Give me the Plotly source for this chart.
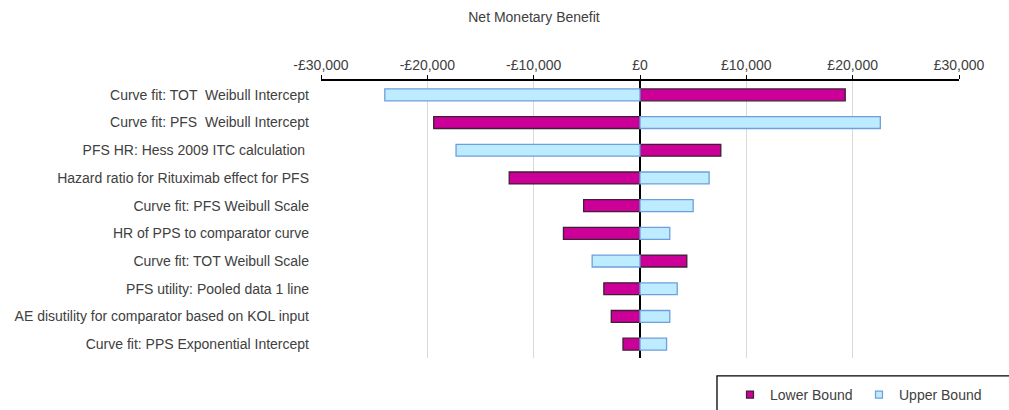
import plotly.graph_objects as go

categories = [
    "Curve fit: TOT  Weibull Intercept",
    "Curve fit: PFS  Weibull Intercept",
    "PFS HR: Hess 2009 ITC calculation ",
    "Hazard ratio for Rituximab effect for PFS",
    "Curve fit: PFS Weibull Scale",
    "HR of PPS to comparator curve",
    "Curve fit: TOT Weibull Scale",
    "PFS utility: Pooled data 1 line",
    "AE disutility for comparator based on KOL input",
    "Curve fit: PPS Exponential Intercept",
]
lower_bound = [19300, -19400, 7600, -12300, -5300, -7200, 4400, -3400, -2700, -1600]
upper_bound = [-24000, 22600, -17300, 6500, 5000, 2800, -4500, 3500, 2800, 2500]
tick_vals = [-30000, -20000, -10000, 0, 10000, 20000, 30000]
tick_text = ["-£30,000", "-£20,000", "-£10,000", "£0", "£10,000", "£20,000", "£30,000"]

FONT = "Liberation Sans, Arial, sans-serif"
TXT = "#404040"
LOW_FILL, LOW_LINE = "#CC0099", "#3F1F33"
UP_FILL, UP_LINE = "#BDEBFF", "#6F9FDA"

fig = go.Figure()
fig.add_trace(go.Bar(
    y=categories, x=lower_bound, orientation="h", name="Lower Bound",
    marker=dict(color=LOW_FILL, line=dict(color=LOW_LINE, width=1.3)),
    width=0.43, showlegend=False,
))
fig.add_trace(go.Bar(
    y=categories, x=upper_bound, orientation="h", name="Upper Bound",
    marker=dict(color=UP_FILL, line=dict(color=UP_LINE, width=1.3)),
    width=0.43, showlegend=False,
))
# legend-only entries with small square swatches
fig.add_trace(go.Scatter(
    x=[None], y=[None], mode="markers", name="Lower Bound",
    marker=dict(symbol="square", size=7, color=LOW_FILL, line=dict(color=LOW_LINE, width=1.2)),
))
fig.add_trace(go.Scatter(
    x=[None], y=[None], mode="markers", name="Upper Bound",
    marker=dict(symbol="square", size=7, color=UP_FILL, line=dict(color=UP_LINE, width=1.2)),
))

fig.update_layout(
    width=1009, height=410,
    margin=dict(l=321, r=50, t=81, b=52, autoexpand=False),
    barmode="overlay",
    plot_bgcolor="white", paper_bgcolor="white",
    font=dict(family=FONT, size=14, color=TXT),
    title=dict(text="Net Monetary Benefit", x=534 / 1009, xanchor="center",
               y=1 - 17 / 410, yanchor="middle",
               font=dict(family=FONT, size=14, color=TXT)),
    xaxis=dict(
        side="top", range=[-30000, 30000],
        tickvals=tick_vals, ticktext=tick_text,
        showgrid=True, gridcolor="#D9D9D9", gridwidth=1,
        zeroline=True, zerolinecolor="black", zerolinewidth=2,
        showline=True, linecolor="black", linewidth=1.5,
        ticks="outside", ticklen=4, tickcolor="black",
        tickfont=dict(family=FONT, size=14, color=TXT),
        ticklabelstandoff=0,
    ),
    yaxis=dict(
        autorange="reversed", showgrid=False, showline=False,
        tickfont=dict(family=FONT, size=14, color=TXT),
        ticklabelstandoff=11,
    ),
    showlegend=True,
    legend=dict(
        orientation="h", xref="container", yref="container",
        x=730 / 1009, xanchor="left",
        y=1 - 395 / 410, yanchor="middle",
        font=dict(family=FONT, size=14, color=TXT),
        bgcolor="rgba(0,0,0,0)", borderwidth=0,
        entrywidth=84, itemwidth=30,
    ),
    shapes=[dict(type="rect", xref="paper", yref="paper",
                 x0=(717 - 321) / 638, x1=1.2,
                 y0=-0.3, y1=(359 - 377) / 278,
                 line=dict(color="black", width=1.3), fillcolor="rgba(0,0,0,0)",
                 layer="above")],
)

fig.write_html("out.html")
